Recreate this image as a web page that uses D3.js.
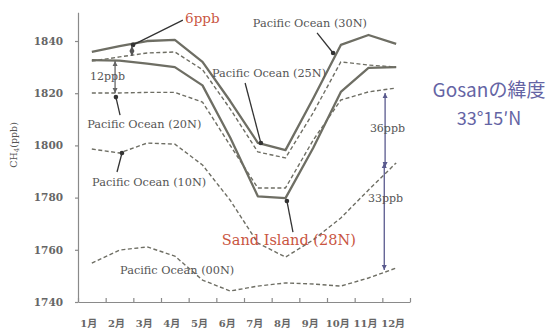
<!DOCTYPE html>
<html>
<head>
<meta charset="utf-8">
<script src="https://cdn.jsdelivr.net/npm/d3@7"></script>
<style>
  body { margin: 0; background: #fff; }
  svg text { font-family: "DejaVu Serif", "Liberation Serif", "Noto Sans CJK JP", serif; }
</style>
</head>
<body>
<svg id="chart" width="552" height="334"></svg>
<script>
// months on the x axis
var months = ["1月", "2月", "3月", "4月", "5月", "6月", "7月", "8月", "9月", "10月", "11月", "12月"];
var yTicks = [1740, 1760, 1780, 1800, 1820, 1840];

// CH4 (ppb)
var pac30 = [1835.8, 1838.0, 1840.0, 1840.4, 1832.0, 1817.0, 1801.0, 1798.2, 1818.0, 1838.5, 1842.3, 1838.9];
var pac25 = [1832.3, 1833.9, 1835.4, 1835.8, 1829.0, 1814.0, 1797.5, 1795.2, 1812.5, 1832.0, 1830.8, 1830.0];
var sand28 = [1832.7, 1832.5, 1831.3, 1830.0, 1823.0, 1803.0, 1780.5, 1779.8, 1799.0, 1820.5, 1829.7, 1830.0];
var pac20 = [1820.1, 1820.1, 1820.3, 1820.3, 1816.6, 1800.0, 1783.7, 1783.7, 1802.0, 1817.4, 1820.5, 1822.0];
var pac10 = [1798.6, 1797.1, 1800.9, 1800.5, 1792.5, 1779.0, 1762.6, 1757.2, 1763.8, 1772.2, 1782.9, 1793.3];
var pac00 = [1754.9, 1759.9, 1761.1, 1757.6, 1748.4, 1744.2, 1746.1, 1747.3, 1746.9, 1746.1, 1749.2, 1753.0];

var series = [
    {name: "pac30", values: pac30, dashed: false},
    {name: "pac25", values: pac25, dashed: true},
    {name: "sand28", values: sand28, dashed: false},
    {name: "pac20", values: pac20, dashed: true},
    {name: "pac10", values: pac10, dashed: true},
    {name: "pac00", values: pac00, dashed: true}
];

// labels: [text, month pos, ppb, colour, size]
var labels = [
    ["6ppb", 3.87, 1846.9, "#c9553f", 13.5],
    ["12ppb", 0.43, 1825.1, "#555", 11],
    ["Pacific Ocean (30N)", 6.32, 1845.4, "#555", 11.3],
    ["Pacific Ocean (25N)", 4.84, 1826.2, "#555", 11.3],
    ["Pacific Ocean (20N)", 0.33, 1806.7, "#555", 11.3],
    ["Pacific Ocean (10N)", 0.51, 1784.4, "#555", 11.3],
    ["Pacific Ocean (00N)", 1.52, 1750.7, "#555", 11.3],
    ["Sand Island (28N)", 5.2, 1761.8, "#c9553f", 14.5],
    ["36ppb", 10.55, 1805.1, "#555", 11],
    ["33ppb", 10.48, 1778.3, "#555", 11]
];

// pointer lines: [m1, v1, m2, v2]
var pointers = [
    [3.79, 1848.0, 1.99, 1838.5],
    [1.52, 1811.6, 1.37, 1818.5],
    [1.41, 1789.8, 1.59, 1797.1],
    [6.04, 1823.9, 6.61, 1800.9],
    [8.64, 1843.1, 9.22, 1835.4],
    [7.77, 1766.8, 7.55, 1778.7]
];

// double arrows: [m, v top, v bottom, colour]
var arrows = [
    [1.95, 1838.1, 1834.3, "#555"],
    [1.34, 1832.3, 1820.1, "#666"],
    [11.1, 1820.1, 1791.7, "#5a5a8e"],
    [11.07, 1793.3, 1752.3, "#5a5a8e"]
];

var svg = d3.select("#chart");
var lineColor = "#6e6e64";
var serif = "'DejaVu Serif', 'Noto Sans CJK JP', serif";

var x = d3.scaleLinear().domain([0, 12]).range([78, 410]);
var y = d3.scaleLinear().domain([1740, 1851]).range([302, 12.3]);

// axes
var yAxis = svg.append("g")
    .attr("transform", "translate(78,0)")
    .call(d3.axisLeft(y).tickValues(yTicks).tickFormat(d3.format("d")).tickSize(3).tickSizeOuter(0));
yAxis.selectAll("text").attr("x", -15)
    .style("font-family", serif).style("font-size", "10.5px").style("font-weight", "bold").attr("fill", "#666");

var xAxis = svg.append("g")
    .attr("transform", "translate(0,302)")
    .call(d3.axisBottom(x).ticks(12).tickSize(-4).tickSizeOuter(0).tickFormat(""));

svg.selectAll(".domain, .tick line").attr("stroke", "#8a8a8a").attr("stroke-width", 1.2);

svg.append("g").selectAll("text")
    .data(months)
    .enter().append("text")
    .attr("x", function (d, i) { return x(i + 0.5) - 3; })
    .attr("y", 327)
    .attr("text-anchor", "middle")
    .style("font-family", serif)
    .style("font-size", "10px")
    .style("font-weight", "bold")
    .attr("fill", "#666")
    .text(function (d) { return d; });

svg.append("text")
    .attr("transform", "translate(17,145) rotate(-90)")
    .attr("text-anchor", "middle")
    .style("font-family", serif)
    .style("font-size", "9.5px")
    .attr("fill", "#555")
    .html("CH<tspan font-size='7px' dy='2'>4</tspan><tspan dy='-2'>(ppb)</tspan>");

// the series
var line = d3.line()
    .x(function (d, i) { return x(i + 0.5); })
    .y(function (d) { return y(d); });

svg.append("g").selectAll("path")
    .data(series)
    .enter().append("path")
    .attr("d", function (d) { return line(d.values); })
    .attr("fill", "none")
    .attr("stroke", lineColor)
    .attr("stroke-width", function (d) { return d.dashed ? 1.4 : 2.3; })
    .attr("stroke-dasharray", function (d) { return d.dashed ? "4,2.5" : null; })
    .attr("stroke-linejoin", "round");

// pointers
svg.append("g").selectAll("line")
    .data(pointers)
    .enter().append("line")
    .attr("x1", function (d) { return x(d[0]); })
    .attr("y1", function (d) { return y(d[1]); })
    .attr("x2", function (d) { return x(d[2]); })
    .attr("y2", function (d) { return y(d[3]); })
    .attr("stroke", "#333")
    .attr("stroke-width", 1.3);

svg.append("g").selectAll("circle")
    .data(pointers)
    .enter().append("circle")
    .attr("cx", function (d) { return x(d[2]); })
    .attr("cy", function (d) { return y(d[3]); })
    .attr("r", 2.3)
    .attr("fill", "#333");

// double arrows
var arr = svg.append("g").selectAll("g")
    .data(arrows)
    .enter().append("g");

arr.append("line")
    .attr("x1", function (d) { return x(d[0]); })
    .attr("x2", function (d) { return x(d[0]); })
    .attr("y1", function (d) { return y(d[1]); })
    .attr("y2", function (d) { return y(d[2]); })
    .attr("stroke", function (d) { return d[3]; })
    .attr("stroke-width", 1.3);

arr.append("path")
    .attr("d", function (d) {
        var cx = x(d[0]), t = y(d[1]), b = y(d[2]);
        return "M" + (cx - 2.5) + "," + (t + 5) + "L" + cx + "," + t + "L" + (cx + 2.5) + "," + (t + 5) + "Z" +
               "M" + (cx - 2.5) + "," + (b - 5) + "L" + cx + "," + b + "L" + (cx + 2.5) + "," + (b - 5) + "Z";
    })
    .attr("fill", function (d) { return d[3]; });

// labels
svg.append("g").selectAll("text")
    .data(labels)
    .enter().append("text")
    .attr("x", function (d) { return x(d[1]); })
    .attr("y", function (d) { return y(d[2]); })
    .attr("fill", function (d) { return d[3]; })
    .style("font-family", serif)
    .style("font-size", function (d) { return d[4] + "px"; })
    .text(function (d) { return d[0]; });

// Gosan note
var note = svg.append("g")
    .attr("fill", "#6464a4")
    .attr("text-anchor", "middle");
note.append("text").attr("x", 489).attr("y", 97).style("font-size", "19px").style("font-family", "'Noto Sans CJK JP'").text("Gosanの緯度");
note.append("text").attr("x", 489).attr("y", 125).style("font-size", "18px").style("font-family", "'Noto Sans CJK JP'").text("33°15′N");
</script>
</body>
</html>
